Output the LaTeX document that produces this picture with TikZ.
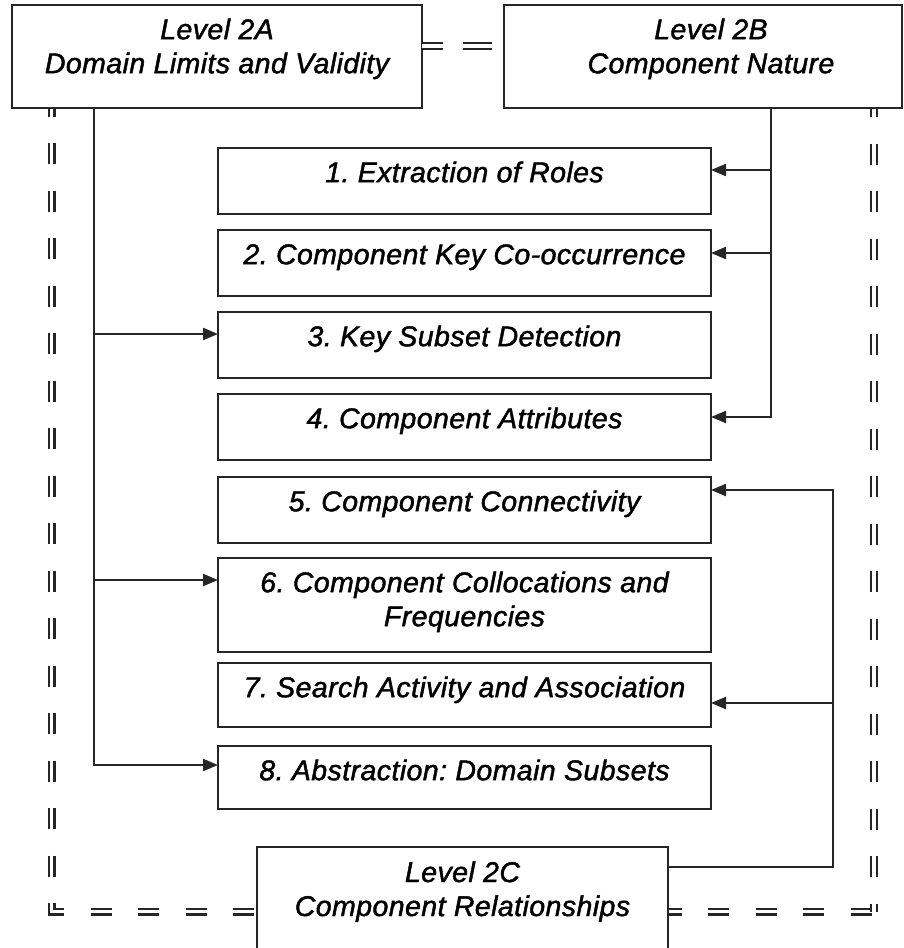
\documentclass[tikz,border=0pt]{standalone}
\usepackage{fontspec}
\setmainfont{Liberation Sans}
\newfontfamily\diagfont[LetterSpace=1.5,FakeBold=1.5]{Liberation Sans Italic}
\usetikzlibrary{arrows.meta}
\frenchspacing

\definecolor{linecol}{HTML}{262626}

\tikzset{
  x=1pt, y=-1pt,
  box/.style={draw=linecol, line width=2.3pt, fill=white, inner sep=0pt, outer sep=0pt},
  boxtext/.style={anchor=north, inner sep=0pt, align=center, text=black,
    font=\diagfont\fontsize{28.5}{34}\selectfont\frenchspacing},
  link/.style={draw=linecol, line width=2.2pt},
  arr/.style={link, -{Triangle[length=15pt,width=12pt]}},
  frame/.style={draw=linecol, line width=2.3pt, double=white, double distance=3.4pt,
    dash pattern=on 21pt off 26.5pt},
}

\begin{document}
\begin{tikzpicture}
\clip (0,0) rectangle (904,948);
\fill[white] (0,0) rectangle (904,948);

% corners of the double dashed frame
\coordinate (fTL) at (51.5,46);
\coordinate (fBL) at (51.5,911.5);
\coordinate (fBR) at (874,911.5);
\coordinate (fTR) at (874,46);

% trunk positions of the connectors
\coordinate (aX) at (94,0);
\coordinate (bX) at (771,0);
\coordinate (cX) at (833,0);
\coordinate (cY) at (0,867);
\coordinate (y1) at (0,170);
\coordinate (y2) at (0,253);
\coordinate (y3) at (0,334);
\coordinate (y4) at (0,417);
\coordinate (y5) at (0,490);
\coordinate (y6) at (0,580);
\coordinate (y7) at (0,703);
\coordinate (y8) at (0,765);

% frame around the whole level 2 group
\draw[frame, dash phase=45.5pt] (fTL) -- (fBL) -- (fBR);
\draw[frame, dash phase=13pt] (fBR) -- (fTR);

% level boxes
\node[box, minimum width=410pt, minimum height=103pt] (A) at (217,56.5) {};
\node[box, minimum width=398pt, minimum height=103pt] (B) at (703,56.5) {};
\node[box, minimum width=411pt, minimum height=160pt] (C) at (462.5,927) {};

\draw[frame, dash pattern=on 21pt off 20pt on 29pt off 20pt] (fTL -| A.east) -- (fTR -| B.west);

% numbered steps
\node[box, minimum width=493pt, minimum height=66pt] (b1) at (464.5,181) {};
\node[box, minimum width=493pt, minimum height=66pt] (b2) at (464.5,263) {};
\node[box, minimum width=493pt, minimum height=66pt] (b3) at (464.5,345) {};
\node[box, minimum width=493pt, minimum height=66pt] (b4) at (464.5,427) {};
\node[box, minimum width=493pt, minimum height=66pt] (b5) at (464.5,510) {};
\node[box, minimum width=493pt, minimum height=94pt] (b6) at (464.5,605) {};
\node[box, minimum width=493pt, minimum height=64pt] (b7) at (464.5,695) {};
\node[box, minimum width=493pt, minimum height=63pt] (b8) at (464.5,777.5) {};

% texts
\node[boxtext] (tA) at ([yshift=-10.2pt]A.north) {\strut Level 2A\\Domain Limits and Validity};
\node[boxtext] (tB) at ([yshift=-10.2pt,xshift=8pt]B.north) {\strut Level 2B\\Component Nature};
\node[boxtext] (tC) at ([yshift=-11pt]C.north) {\strut Level 2C\\Component Relationships};
\node[boxtext] (t1) at ([yshift=-10.2pt]b1.north) {\strut 1. Extraction of Roles};
\node[boxtext] (t2) at ([yshift=-10.2pt]b2.north) {\strut 2. Component Key Co-occurrence};
\node[boxtext] (t3) at ([yshift=-10.2pt]b3.north) {\strut 3. Key Subset Detection};
\node[boxtext] (t4) at ([yshift=-10.2pt]b4.north) {\strut 4. Component Attributes};
\node[boxtext] (t5) at ([yshift=-10.2pt]b5.north) {\strut 5. Component Connectivity};
\node[boxtext] (t6) at ([yshift=-10.2pt]b6.north) {\strut 6. Component Collocations and\\Frequencies};
\node[boxtext] (t7) at ([yshift=-10.2pt]b7.north) {\strut 7. Search Activity and Association};
\node[boxtext] (t8) at ([yshift=-10.2pt]b8.north) {\strut 8. Abstraction: Domain Subsets};

% Level 2A feeds steps 3, 6 and 8
\draw[arr] (A.south -| aX) |- (b8.west |- y8);
\draw[arr] (aX |- y3) -- (b3.west |- y3);
\draw[arr] (aX |- y6) -- (b6.west |- y6);

% Level 2B feeds steps 1, 2 and 4
\draw[arr] (B.south -| bX) |- (b4.east |- y4);
\draw[arr] (bX |- y1) -- (b1.east |- y1);
\draw[arr] (bX |- y2) -- (b2.east |- y2);

% Level 2C feeds steps 5 and 7
\draw[arr] (C.east |- cY) -| (cX |- y5) -- (b5.east |- y5);
\draw[arr] (cX |- y7) -- (b7.east |- y7);
\end{tikzpicture}
\end{document}
